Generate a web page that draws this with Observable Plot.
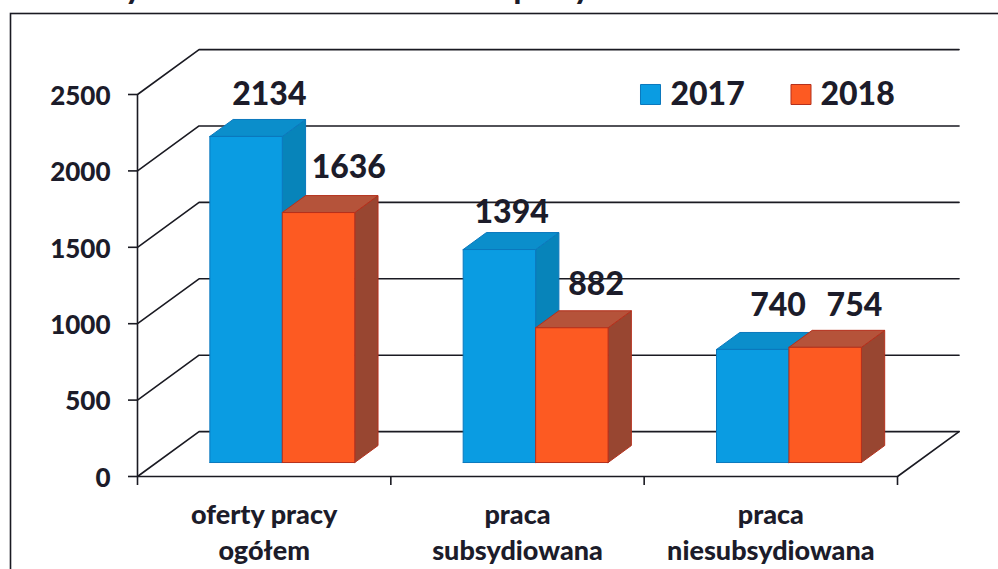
<!DOCTYPE html>
<html>
<head>
<meta charset="utf-8">
<script src="https://cdn.jsdelivr.net/npm/d3@7"></script>
<script src="https://cdn.jsdelivr.net/npm/@observablehq/plot@0.6"></script>
<style>
html,body{margin:0;padding:0;background:#fff;overflow:hidden}
</style>
</head>
<body>
<div id="chart"></div>
<script>
const categories = ["oferty pracy\nogółem", "praca\nsubsydiowana", "praca\nniesubsydiowana"];
const years = ["2017", "2018"];
const values2017 = [2134, 1394, 740];
const values2018 = [1636, 882, 754];
const yTicks = [0, 500, 1000, 1500, 2000, 2500];
const xTicks = [0, 1, 2, 3];
const titleLeft = "Oferty";
const titleRight = "pracy w latach 2017-2018.";

const ink = "#1c1c2a";
const line = "#1a1a22";
const labelWeight = 900;
const palette = {
  "2017": {front: "#0a9ce2", top: "#0b8ecb", side: "#0784ba", edge: "#0b78bd"},
  "2018": {front: "#fd5a22", top: "#b5533a", side: "#984631", edge: "#b5301c"}
};

// Oblique projection: depth z (0 front of floor, 1 back wall) expressed in scale units.
const depthX = 0.243, depthY = 294;
const at = (c, v, z) => ({x: c + z * depthX, y: v + z * depthY});

const barFrontZ = 0.311, barBackZ = 0.689, barWidth = 0.286, groupCentre = 0.496;

const bars = years.flatMap((year, s) =>
  (s === 0 ? values2017 : values2018).map((value, i) => ({
    year, value, i,
    left: i + groupCentre + (s - 1) * barWidth,
    right: i + groupCentre + s * barWidth
  }))
);

const face = (b, kind) => {
  const {left: l, right: r, value: v} = b, f = barFrontZ, k = barBackZ;
  const corners = {
    front: [[l, 0, f], [r, 0, f], [r, v, f], [l, v, f]],
    top: [[l, v, f], [r, v, f], [r, v, k], [l, v, k]],
    side: [[r, 0, f], [r, 0, k], [r, v, k], [r, v, f]]
  }[kind];
  return [...corners, corners[0]].map(([c, val, z]) => ({...at(c, val, z), bar: `${b.year}-${b.i}`}));
};

const barMarks = years.flatMap(year =>
  ["side", "top", "front"].map(kind =>
    Plot.line(bars.filter(b => b.year === year).flatMap(b => face(b, kind)), {
      x: "x", y: "y", z: "bar",
      fill: palette[year][kind], stroke: palette[year].edge, strokeWidth: 1
    })
  )
);

const wallLines = yTicks.map(v => [at(0, v, 0), at(0, v, 1), at(3, v, 1)]);
const floorEdge = [at(3, 0, 1), at(3, 0, 0)];

// [horizontal nudge, vertical offset] for each value label, in the order of `bars`
const labelShift = [[0, -25], [-11, -20], [2, -27], [7, -28], [1, -26], [6, -25]];
const valueLabels = bars.map((b, n) => {
  const p = at((b.left + b.right) / 2, b.value, barBackZ);
  return Plot.text([b.value], {
    x: () => p.x, y: () => p.y, text: d => String(d),
    dx: labelShift[n][0], dy: labelShift[n][1],
    fontFamily: "Lato", fontWeight: labelWeight, fontSize: 32, fill: ink
  });
});

const legendMarks = years.flatMap((year, s) => [
  Plot.dot([year], {
    frameAnchor: "top-left", dx: 513 + s * 150.5, dy: 0,
    symbol: "square", r: 11.3,
    fill: palette[year].front, stroke: palette[year].edge, strokeWidth: 1
  }),
  Plot.text([year], {
    frameAnchor: "top-left", textAnchor: "start", lineAnchor: "middle", dx: 533 + s * 150, dy: 0,
    fontFamily: "Lato", fontWeight: labelWeight, fontSize: 32, fill: ink
  })
]);

const chart = Plot.plot({
  width: 998, height: 569,
  marginLeft: 137, marginRight: 101, marginTop: 94, marginBottom: 93,
  x: {domain: [0, 3]},
  y: {domain: [0, 2500]},
  style: {background: "#fff"},
  marks: [
    Plot.frame({insetLeft: -127, insetTop: -81, insetRight: -120, insetBottom: -120, stroke: line, strokeWidth: 1.6}),
    ...wallLines.map(pts => Plot.line(pts, {x: "x", y: "y", stroke: line, strokeWidth: 1.6})),
    Plot.line(floorEdge, {x: "x", y: "y", stroke: line, strokeWidth: 1.6}),
    Plot.ruleX([0], {y1: 0, y2: 2500, stroke: line, strokeWidth: 1.6}),
    Plot.ruleY([0], {x1: 0, x2: 3, stroke: line, strokeWidth: 1.6}),
    Plot.axisY({
      ticks: yTicks, tickSize: 9, label: null, tickFormat: () => "",
      stroke: line, strokeWidth: 1.6
    }),
    Plot.axisY({
      ticks: yTicks, tickSize: 0, tickPadding: 27, label: null, tickFormat: d => String(d), dy: 2,
      fontFamily: "Lato", fontWeight: labelWeight, fontSize: 26, fill: ink
    }),
    Plot.axisX({
      ticks: xTicks, tickSize: 9, label: null, tickFormat: () => "",
      stroke: line, strokeWidth: 1.6
    }),
    ...barMarks,
    ...valueLabels,
    ...legendMarks,
    Plot.text(categories, {
      x: (d, i) => i + 0.5, y: () => 0, dy: 22, lineAnchor: "top", lineHeight: 1.34,
      fontFamily: "Lato", fontWeight: labelWeight, fontSize: 27, fill: ink
    }),
    Plot.text([titleLeft], {
      frameAnchor: "top-left", textAnchor: "end", lineAnchor: "bottom", dx: 4, dy: -96,
      fontFamily: "Lato", fontWeight: labelWeight, fontSize: 31, fill: ink
    }),
    Plot.text([titleRight], {
      frameAnchor: "top-left", textAnchor: "start", lineAnchor: "bottom", dx: 376, dy: -96,
      fontFamily: "Lato", fontWeight: labelWeight, fontSize: 31, fill: ink
    })
  ]
});
document.getElementById("chart").append(chart);
</script>
</body>
</html>
